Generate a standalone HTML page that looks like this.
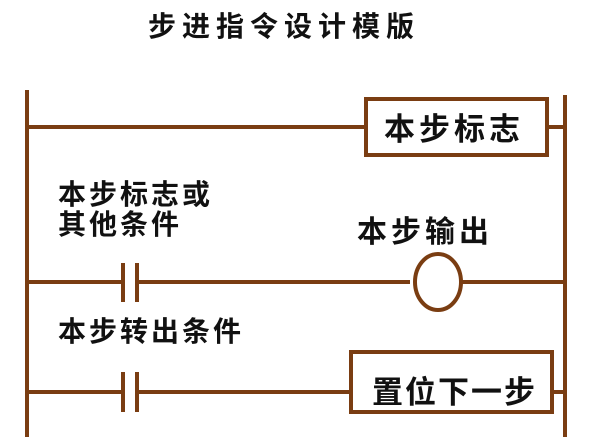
<!DOCTYPE html>
<html><head><meta charset="utf-8"><style>
html,body{margin:0;padding:0;background:#fff;width:601px;height:445px;overflow:hidden}
svg text{font-family:"Liberation Sans","Noto Sans CJK SC","WenQuanYi Zen Hei",sans-serif;font-weight:bold;fill:#111}
</style></head><body>
<svg width="601" height="445" viewBox="0 0 601 445">
<text x="148" y="36" font-size="28" letter-spacing="6">步进指令设计模版</text>
<g stroke="#7a3d12" stroke-width="4" fill="none">
<line x1="27" y1="90" x2="27" y2="437"/>
<line x1="565" y1="95" x2="565" y2="437"/>
<line x1="27" y1="127" x2="366" y2="127"/>
<rect x="366" y="99" width="181" height="56" fill="#fff"/>
<line x1="547" y1="127" x2="565" y2="127"/>
<line x1="27" y1="282" x2="123" y2="282"/>
<line x1="123" y1="263" x2="123" y2="302"/>
<line x1="137" y1="263" x2="137" y2="302"/>
<line x1="137" y1="282" x2="410" y2="282"/>
<ellipse cx="438" cy="282" rx="23" ry="28" fill="#fff"/>
<line x1="461" y1="282" x2="565" y2="282"/>
<line x1="27" y1="392" x2="123" y2="392"/>
<line x1="123" y1="372" x2="123" y2="412"/>
<line x1="137" y1="372" x2="137" y2="412"/>
<line x1="137" y1="392" x2="351" y2="392"/>
<rect x="351" y="352" width="201" height="60" fill="#fff"/>
<line x1="552" y1="392" x2="565" y2="392"/>
</g>
<text x="384" y="140" font-size="31" letter-spacing="4">本步标志</text>
<text x="58" y="204" font-size="28" letter-spacing="3">本步标志或</text>
<text x="58" y="234" font-size="28" letter-spacing="3">其他条件</text>
<text x="357" y="242" font-size="30" letter-spacing="4">本步输出</text>
<text x="58" y="341" font-size="28" letter-spacing="3">本步转出条件</text>
<text x="372" y="403" font-size="31" letter-spacing="2">置位下一步</text>
</svg>
</body></html>
